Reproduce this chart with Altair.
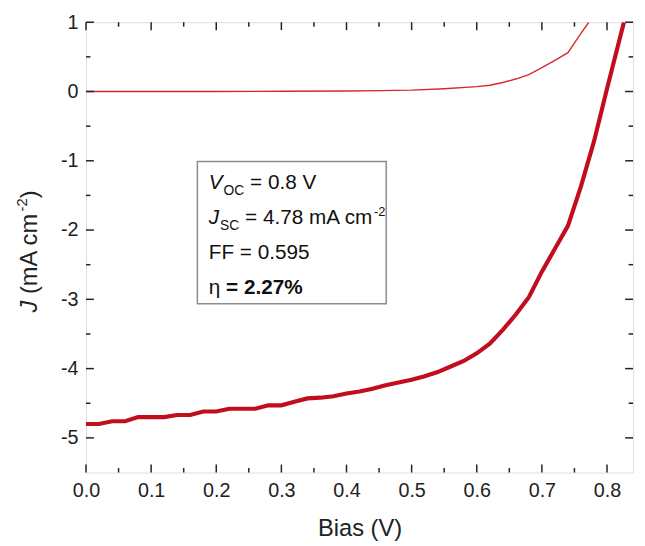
import altair as alt
import pandas as pd

FONT = "Liberation Sans"

# ---------------- data ----------------
dark_v = [0.00, 0.02, 0.04, 0.06, 0.08, 0.10, 0.12, 0.14, 0.16, 0.18, 0.20, 0.22, 0.24,
          0.26, 0.28, 0.30, 0.32, 0.34, 0.36, 0.38, 0.40, 0.42, 0.44, 0.46, 0.48, 0.50,
          0.52, 0.54, 0.56, 0.58, 0.60, 0.62, 0.64, 0.66, 0.68, 0.70, 0.72, 0.74, 0.76,
          0.78, 0.80, 0.82, 0.826]
dark_j = [-4.80, -4.80, -4.76, -4.76, -4.70, -4.70, -4.70, -4.67, -4.67, -4.62, -4.62,
          -4.58, -4.58, -4.58, -4.53, -4.53, -4.48, -4.43, -4.42, -4.40, -4.36, -4.33,
          -4.29, -4.24, -4.20, -4.16, -4.11, -4.05, -3.97, -3.89, -3.78, -3.64, -3.44,
          -3.22, -2.97, -2.60, -2.27, -1.94, -1.37, -0.72, 0.04, 0.78, 1.00]

light_v = [0.00, 0.10, 0.20, 0.30, 0.40, 0.45, 0.50, 0.55, 0.60, 0.62, 0.64, 0.66, 0.68,
           0.70, 0.72, 0.74, 0.76, 0.772]
light_j = [0.000, 0.000, 0.000, 0.003, 0.008, 0.012, 0.020, 0.040, 0.070, 0.090, 0.130,
           0.180, 0.245, 0.345, 0.450, 0.560, 0.840, 1.000]

x_major = [0.0, 0.1, 0.2, 0.3, 0.4, 0.5, 0.6, 0.7, 0.8]
x_minor = [0.05, 0.15, 0.25, 0.35, 0.45, 0.55, 0.65, 0.75]
y_major = [-5, -4, -3, -2, -1, 0, 1]
y_minor = [-4.5, -3.5, -2.5, -1.5, -0.5, 0.5]

box_x = [0.171, 0.461]
box_y = [-1.012, -3.065]
text_x = 0.1885
row_y = [-1.409, -1.915, -2.421, -2.920]

W, H = 554, 456
xs = alt.Scale(domain=[0, 0.84], nice=False, zero=False)
ys = alt.Scale(domain=[-5.5, 1], nice=False, zero=False)

# approximate Arial advance widths (per 1000 em)
AW = {" ": 278, "=": 584, ".": 278, "V": 667, "m": 833, "A": 667, "c": 500,
      "F": 611, "O": 778, "C": 722, "S": 667, "J": 500, "(": 333, ")": 333, "-": 333,
      "%": 889, "η": 556}


def tw(s, size):
    return sum(AW.get(ch, 556) for ch in s) * size / 1000.0


# ---------------- curves ----------------
dark_df = pd.DataFrame({"v": dark_v, "j": dark_j})
light_df = pd.DataFrame({"v": light_v, "j": light_j})

light = alt.Chart(light_df).mark_line(color="#d42a2f", strokeWidth=1.4, clip=True).encode(
    x=alt.X("v:Q", scale=xs), y=alt.Y("j:Q", scale=ys))

dark = alt.Chart(dark_df).mark_line(color="#c20d1f", strokeWidth=4.2, clip=True).encode(
    x=alt.X("v:Q", scale=xs,
            axis=alt.Axis(values=x_major, format=".1f", ticks=False, domain=False, grid=False,
                          labelFlush=False, labelFont=FONT, labelFontSize=20,
                          labelColor="#222", labelPadding=8, title="Bias (V)",
                          titleFont=FONT, titleFontSize=24, titleFontWeight="normal",
                          titleColor="#222", titlePadding=17)),
    y=alt.Y("j:Q", scale=ys,
            axis=alt.Axis(values=y_major, labelExpr="'' + datum.value", ticks=False,
                          domain=False, grid=False, labelFlush=False, labelFont=FONT,
                          labelFontSize=20, labelColor="#222", labelPadding=8,
                          title=None)))

# ---------------- inside ticks ----------------
def xticks(vals, length, top):
    d = pd.DataFrame({"v": vals})
    if top:
        yy, yy2 = alt.value(0), alt.value(length)
    else:
        yy, yy2 = alt.value(H), alt.value(H - length)
    return alt.Chart(d).mark_rule(color="#222", strokeWidth=1.5).encode(
        x=alt.X("v:Q", scale=xs), y=yy, y2=yy2)


def yticks(vals, length, right):
    d = pd.DataFrame({"v": vals})
    if right:
        xx, xx2 = alt.value(W), alt.value(W - length)
    else:
        xx, xx2 = alt.value(0), alt.value(length)
    return alt.Chart(d).mark_rule(color="#222", strokeWidth=1.5).encode(
        y=alt.Y("v:Q", scale=ys), x=xx, x2=xx2)


ticks = [xticks(x_major, 8, False), xticks(x_minor, 4.5, False),
         xticks(x_major, 8, True), xticks(x_minor, 4.5, True),
         yticks(y_major, 8, False), yticks(y_minor, 4.5, False),
         yticks(y_major, 8, True), yticks(y_minor, 4.5, True)]

# ---------------- annotation box ----------------
box_df = pd.DataFrame({"x1": [box_x[0]], "x2": [box_x[1]], "y1": [box_y[0]], "y2": [box_y[1]]})
box = alt.Chart(box_df).mark_rect(fill="white", stroke="#8c8c8c", strokeWidth=1.5).encode(
    x=alt.X("x1:Q", scale=xs), x2="x2:Q", y=alt.Y("y1:Q", scale=ys), y2="y2:Q")

TS = 21   # box text size
SS = 14   # subscript size
US = 13   # superscript size
SP = tw(" ", TS)


def txt(s, row, dx=0, dy=0, size=TS, style="normal", weight="normal"):
    d = pd.DataFrame({"t": [s], "x": [text_x], "y": [row_y[row]]})
    return alt.Chart(d).mark_text(align="left", baseline="alphabetic", font=FONT,
                                  fontSize=size, fontStyle=style, fontWeight=weight,
                                  color="#111", dx=dx, dy=dy).encode(
        x=alt.X("x:Q", scale=xs), y=alt.Y("y:Q", scale=ys), text="t:N")


labels = []
# row 1: V_OC = 0.8 V
w = tw("V", TS) + 1
labels.append(txt("V", 0, style="italic"))
labels.append(txt("OC", 0, dx=w, dy=6, size=SS))
labels.append(txt("= 0.8 V", 0, dx=w + tw("OC", SS) + SP))
# row 2: J_SC = 4.78 mA cm^-2
w = tw("J", TS) + 1
s2 = "= 4.78 mA cm"
labels.append(txt("J", 1, style="italic"))
labels.append(txt("SC", 1, dx=w, dy=6, size=SS))
w2 = w + tw("SC", SS) + SP
labels.append(txt(s2, 1, dx=w2))
labels.append(txt("-2", 1, dx=w2 + tw(s2, TS) + 0.5, dy=-8, size=US))
# row 3
labels.append(txt("FF = 0.595", 2))
# row 4
labels.append(txt("η", 3))
labels.append(txt("= 2.27%", 3, dx=tw("η", TS) + SP, weight="bold"))

# ---------------- y-axis title (rotated, built from pieces) ----------------
YT = 24
YS = 15
y_start = 294   # bottom of text (plot coordinates)
x_base = -50


def ytxt(s, offset, size=YT, style="normal", shift=0):
    d = pd.DataFrame({"t": [s]})
    return alt.Chart(d).mark_text(align="left", baseline="alphabetic", angle=270,
                                  font=FONT, fontSize=size, fontStyle=style,
                                  color="#222").encode(
        x=alt.value(x_base - shift), y=alt.value(y_start - offset), text="t:N")


t2 = "(mA cm"
o1 = tw("J", YT) + tw(" ", YT)
o2 = o1 + tw(t2, YT) + 1
o3 = o2 + tw("-2", YS)
ytitle = [ytxt("J", 0, style="italic"),
          ytxt(t2, o1),
          ytxt("-2", o2, size=YS, shift=10),
          ytxt(")", o3)]

chart = alt.layer(box, light, dark, *ticks, *labels, *ytitle).properties(
    width=W, height=H,
    autosize=alt.AutoSizeParams(type="none"),
    padding={"left": 79, "top": 11, "right": 4, "bottom": 70},
).configure_view(stroke="#222", strokeWidth=1.5).configure(background="white")

chart.save("out.html", embed_options={"renderer": "svg", "actions": False})
